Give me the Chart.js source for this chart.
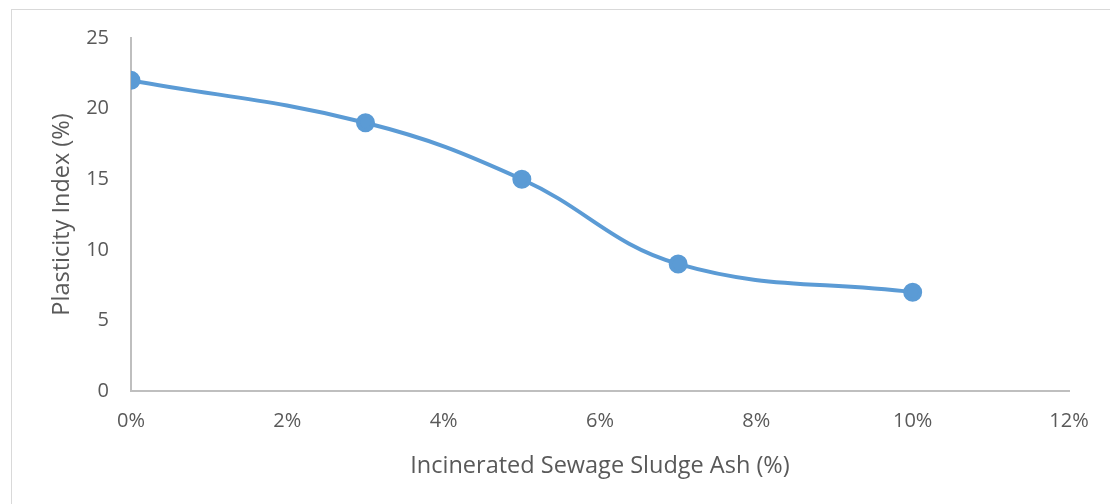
<!DOCTYPE html>
<html>
<head>
<meta charset="utf-8">
<script src="https://cdn.jsdelivr.net/npm/chart.js@4"></script>
<style>
  body { margin: 0; background: #fff; }
  #frame { position: absolute; left: 11px; top: 9px; width: 1200px; height: 600px;
           border-top: 1px solid #d9d9d9; border-left: 1px solid #d9d9d9; }
  #wrap { position: absolute; left: 0; top: 0; width: 1110px; height: 504px; }
</style>
</head>
<body>
<div id="frame"></div>
<div id="wrap"><canvas id="miGrafico"></canvas></div>
<script>
// ash content (%) and plasticity index (%)
const ashPct = [0, 3, 5, 7, 10];
const plasticity = [22, 19, 15, 9, 7];
const xTicks = [0, 2, 4, 6, 8, 10, 12];
const yTicks = [0, 5, 10, 15, 20, 25];

const puntos = [];
for (let i = 0; i < ashPct.length; i++) {
    puntos.push({ x: ashPct[i], y: plasticity[i] });
}

const azul = '#5B9BD5';
const gris = '#595959';
const fuente = { family: 'Open Sans', size: 20 };
const fuenteTitulo = { family: 'Open Sans', size: 23.5 };

new Chart(document.getElementById('miGrafico'), {
    type: 'scatter',
    data: {
        datasets: [{
            data: puntos,
            showLine: true,
            borderColor: azul,
            backgroundColor: azul,
            borderWidth: 4,
            pointRadius: 7.5,
            pointHoverRadius: 7.5,
            tension: 0.4
        }]
    },
    options: {
        responsive: true,
        maintainAspectRatio: false,
        animation: false,
        layout: { padding: { top: 38, right: 41, left: 0, bottom: 0 } },
        plugins: { legend: { display: false }, tooltip: { enabled: false } },
        scales: {
            x: {
                type: 'linear',
                min: 0, max: 12,
                afterBuildTicks: (ax) => { ax.ticks = xTicks.map(v => ({ value: v })); },
                afterFit: (ax) => { ax.height = 113; },
                grid: { display: false, drawTicks: false },
                border: { color: '#bfbfbf', width: 2 },
                ticks: { color: gris, font: fuente, padding: 18, maxRotation: 0,
                         callback: (v) => v + '%' },
                title: { display: true, text: 'Incinerated Sewage Sludge Ash (%)',
                         color: gris, font: fuenteTitulo,
                         padding: { top: 10, bottom: 24 } }
            },
            y: {
                min: 0, max: 25,
                afterBuildTicks: (ax) => { ax.ticks = yTicks.map(v => ({ value: v })); },
                afterFit: (ax) => { ax.width = 131; },
                grid: { display: false, drawTicks: false },
                border: { color: '#bfbfbf', width: 2 },
                ticks: { color: gris, font: fuente, padding: 22 },
                title: { display: true, text: 'Plasticity Index (%)',
                         color: gris, font: fuenteTitulo,
                         padding: { top: 48, bottom: 0 } }
            }
        }
    }
});
</script>
</body>
</html>
